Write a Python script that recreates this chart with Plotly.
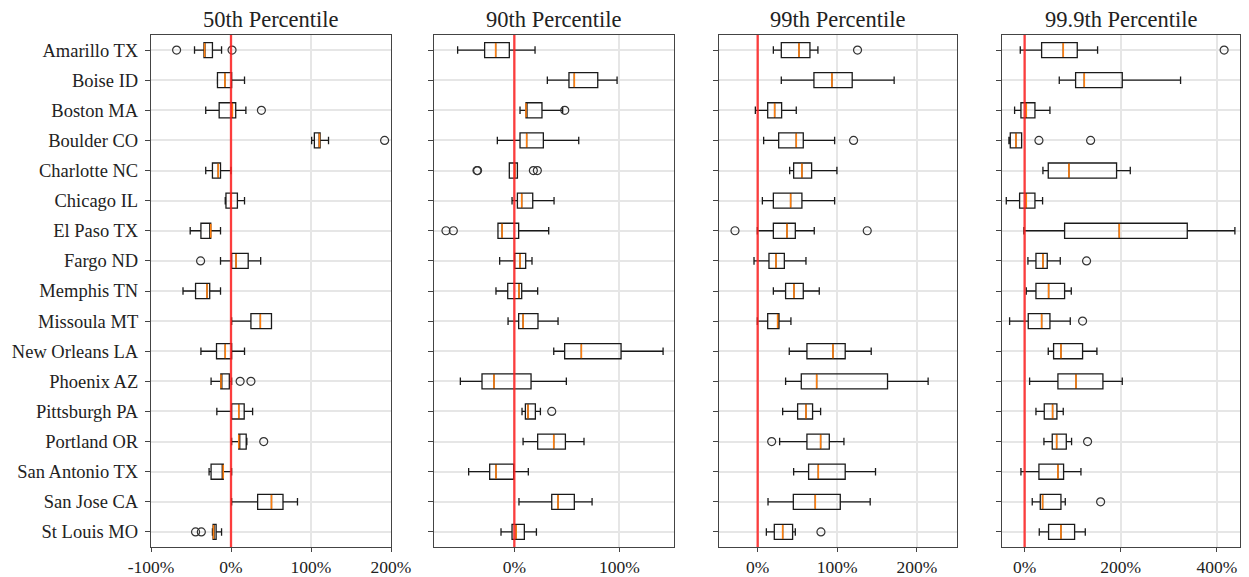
import plotly.graph_objects as go

cities = ["Amarillo TX", "Boise ID", "Boston MA", "Boulder CO", "Charlotte NC", "Chicago IL",
          "El Paso TX", "Fargo ND", "Memphis TN", "Missoula MT", "New Orleans LA", "Phoenix AZ",
          "Pittsburgh PA", "Portland OR", "San Antonio TX", "San Jose CA", "St Louis MO"]
titles = ["50th Percentile", "90th Percentile", "99th Percentile", "99.9th Percentile"]

# per panel: whisker low, q1, median, q3, whisker high (fractions)
p50_lo = [-0.456, -0.17, -0.316, 1.008, -0.316, -0.072, -0.51, -0.131, -0.60, 0.008, -0.376, -0.249, -0.177, 0.008, -0.274, 0.008, -0.232]
p50_q1 = [-0.338, -0.169, -0.148, 1.042, -0.232, -0.063, -0.376, 0.008, -0.443, 0.249, -0.181, -0.127, 0.008, 0.097, -0.249, 0.333, -0.224]
p50_md = [-0.330, -0.076, 0.017, 1.105, -0.160, 0.000, -0.253, 0.063, -0.300, 0.367, -0.072, -0.125, 0.097, 0.097, -0.097, 0.506, -0.219]
p50_q3 = [-0.232, 0.008, 0.059, 1.114, -0.131, 0.080, -0.253, 0.215, -0.266, 0.506, 0.008, -0.021, 0.165, 0.190, -0.097, 0.650, -0.186]
p50_hi = [-0.118, 0.169, 0.186, 1.219, 0.000, 0.169, -0.131, 0.371, -0.131, 0.506, 0.169, 0.008, 0.270, 0.198, 0.008, 0.831, -0.118]
p50_out = [[-0.68, 0.013], [], [0.38], [1.92], [], [], [], [-0.38], [], [], [], [0.114, 0.249], [], [0.409], [], [], [-0.443, -0.371]]

p90_lo = [-0.54, 0.314, 0.054, -0.162, -0.048, -0.022, -0.156, -0.14, -0.175, -0.06, 0.375, -0.514, 0.073, 0.083, -0.435, 0.044, -0.127]
p90_q1 = [-0.283, 0.52, 0.111, 0.054, -0.048, 0.029, -0.156, 0.003, -0.063, 0.041, 0.479, -0.308, 0.105, 0.222, -0.235, 0.356, -0.022]
p90_md = [-0.178, 0.571, 0.111, 0.117, 0.003, 0.07, -0.117, 0.054, 0.044, 0.083, 0.638, -0.194, 0.13, 0.375, -0.175, 0.416, 0.016]
p90_q3 = [-0.048, 0.794, 0.263, 0.276, 0.029, 0.175, 0.041, 0.108, 0.07, 0.225, 1.016, 0.159, 0.2, 0.486, -0.006, 0.571, 0.095]
p90_hi = [0.197, 0.978, 0.46, 0.613, 0.029, 0.378, 0.327, 0.168, 0.222, 0.416, 1.416, 0.495, 0.248, 0.663, 0.133, 0.74, 0.21]
p90_out = [[], [], [0.48], [], [-0.350, -0.356, 0.181, 0.219], [], [-0.651, -0.581], [], [], [], [], [], [0.356], [], [], [], []]

p99_lo = [0.197, 0.297, -0.029, 0.075, 0.402, 0.059, -0.004, -0.046, 0.197, -0.004, 0.397, 0.351, 0.314, 0.276, 0.452, 0.13, 0.109]
p99_q1 = [0.297, 0.707, 0.126, 0.264, 0.452, 0.197, 0.197, 0.142, 0.351, 0.126, 0.619, 0.548, 0.502, 0.619, 0.64, 0.448, 0.209]
p99_md = [0.519, 0.933, 0.213, 0.485, 0.556, 0.414, 0.368, 0.23, 0.456, 0.251, 0.946, 0.741, 0.607, 0.791, 0.762, 0.724, 0.314]
p99_q3 = [0.657, 1.188, 0.301, 0.573, 0.678, 0.556, 0.473, 0.335, 0.573, 0.268, 1.1, 1.632, 0.69, 0.9, 1.1, 1.038, 0.439]
p99_hi = [0.757, 1.715, 0.485, 0.967, 0.996, 0.967, 0.711, 0.607, 0.774, 0.418, 1.427, 2.142, 0.791, 1.084, 1.481, 1.414, 0.473]
p99_out = [[1.255], [], [], [1.205], [], [], [-0.285, 1.377], [], [], [], [], [], [], [0.176], [], [], [0.795]]

p999_lo = [-0.09, 0.721, -0.208, -0.326, 0.381, -0.381, -0.014, 0.069, 0.035, -0.312, 0.492, 0.104, 0.236, 0.402, -0.076, 0.159, 0.305]
p999_q1 = [0.354, 1.061, -0.076, -0.298, 0.492, -0.104, 0.832, 0.236, 0.236, 0.076, 0.603, 0.693, 0.409, 0.575, 0.298, 0.326, 0.499]
p999_md = [0.804, 1.241, 0.035, -0.18, 0.922, 0.035, 1.969, 0.381, 0.499, 0.354, 0.756, 1.068, 0.582, 0.666, 0.693, 0.374, 0.756]
p999_q3 = [1.095, 2.031, 0.215, -0.062, 1.913, 0.215, 3.383, 0.471, 0.832, 0.527, 1.206, 1.629, 0.672, 0.867, 0.811, 0.756, 1.04]
p999_hi = [1.518, 3.244, 0.527, -0.062, 2.198, 0.374, 4.374, 0.742, 0.971, 0.95, 1.504, 2.031, 0.804, 0.977, 1.172, 0.846, 1.262]
p999_out = [[4.15], [], [], [0.298, 1.373], [], [], [], [1.289], [], [1.206], [], [], [], [1.31], [], [1.581], []]

x_ranges = [[-1.0, 2.0], [-0.765, 1.52], [-0.486, 2.505], [-0.47, 4.48]]
x_tickvals = [[-1, 0, 1, 2], [0, 1], [0, 1, 2], [0, 2, 4]]
x_ticktext = [["-100%", "0%", "100%", "200%"], ["0%", "100%"], ["0%", "100%", "200%"], ["0%", "200%", "400%"]]

panels = [
    (p50_lo, p50_q1, p50_md, p50_q3, p50_hi, p50_out),
    (p90_lo, p90_q1, p90_md, p90_q3, p90_hi, p90_out),
    (p99_lo, p99_q1, p99_md, p99_q3, p99_hi, p99_out),
    (p999_lo, p999_q1, p999_md, p999_q3, p999_hi, p999_out),
]

W, H = 1249, 577
x_dom_px = [(151, 391), (434, 674), (719, 957), (1002, 1240)]
y_dom = [(H - 547) / H, (H - 35) / H]
FONT = "Liberation Serif, Times New Roman, serif"
BOX_W = 0.5

positions = list(range(1, len(cities) + 1))

fig = go.Figure()
layout = dict(width=W, height=H, margin=dict(l=0, r=0, t=0, b=0, autoexpand=False),
              template="none",
              paper_bgcolor="white", plot_bgcolor="white", showlegend=False,
              font=dict(family=FONT, size=17, color="#222"))
shapes = []
annotations = []

for i, (lo, q1, md, q3, hi, outs) in enumerate(panels):
    sfx = "" if i == 0 else str(i + 1)
    xa, ya = "x" + sfx, "y" + sfx
    fig.add_trace(go.Box(
        orientation="h", y=positions, q1=q1, median=md, q3=q3,
        lowerfence=lo, upperfence=hi, width=BOX_W, whiskerwidth=0.5,
        boxpoints=False, line=dict(color="#1a1a1a", width=1.3),
        fillcolor="rgba(0,0,0,0)", xaxis=xa, yaxis=ya, hoverinfo="skip"))
    mx, my = [], []
    for p, m in zip(positions, md):
        mx += [m, m, None]
        my += [p - BOX_W / 2 + 0.02, p + BOX_W / 2 - 0.02, None]
    fig.add_trace(go.Scatter(x=mx, y=my, mode="lines", line=dict(color="#ff7f0e", width=1.6),
                             xaxis=xa, yaxis=ya, hoverinfo="skip"))
    ox, oy = [], []
    for p, o in zip(positions, outs):
        for v in o:
            ox.append(v)
            oy.append(p)
    fig.add_trace(go.Scatter(x=ox, y=oy, mode="markers",
                             marker=dict(symbol="circle-open", size=8, color="#333",
                                         line=dict(width=1.2, color="#333")),
                             xaxis=xa, yaxis=ya, hoverinfo="skip"))
    x0, x1 = x_dom_px[i]
    layout["xaxis" + sfx] = dict(
        domain=[x0 / W, x1 / W], range=x_ranges[i], anchor=ya, automargin=False,
        tickvals=x_tickvals[i], ticktext=x_ticktext[i], showgrid=True,
        gridcolor="#e6e6e6", gridwidth=1.8, zeroline=False, showline=True,
        linecolor="#444", linewidth=1.2, mirror=True, ticks="outside", ticklen=4,
        tickcolor="#444", tickfont=dict(family=FONT, size=17.5, color="#222"))
    layout["yaxis" + sfx] = dict(
        domain=list(y_dom), range=[len(cities) + 0.5, 0.5], anchor=xa, automargin=False,
        tickvals=positions, ticktext=cities, showticklabels=(i == 0),
        showgrid=True, gridcolor="#e6e6e6", gridwidth=1.8, zeroline=False,
        showline=True, linecolor="#444", linewidth=1.2, mirror=True,
        ticks="outside", ticklen=5, tickcolor="#444", ticklabelstandoff=3,
        tickfont=dict(family=FONT, size=18.5, color="#222"))
    shapes.append(dict(type="line", xref=xa, yref=ya + " domain", x0=0, x1=0, y0=0, y1=1,
                       line=dict(color="rgba(255,30,30,0.85)", width=2.3), layer="above"))
    annotations.append(dict(text=titles[i], xref="paper", yref="paper",
                            x=(x0 + x1) / 2 / W, y=(H - 19) / H, xanchor="center",
                            yanchor="middle", showarrow=False,
                            font=dict(family=FONT, size=22.5, color="#222")))

layout["shapes"] = shapes
layout["annotations"] = annotations
fig.update_layout(**layout)
fig.write_html("out.html")
